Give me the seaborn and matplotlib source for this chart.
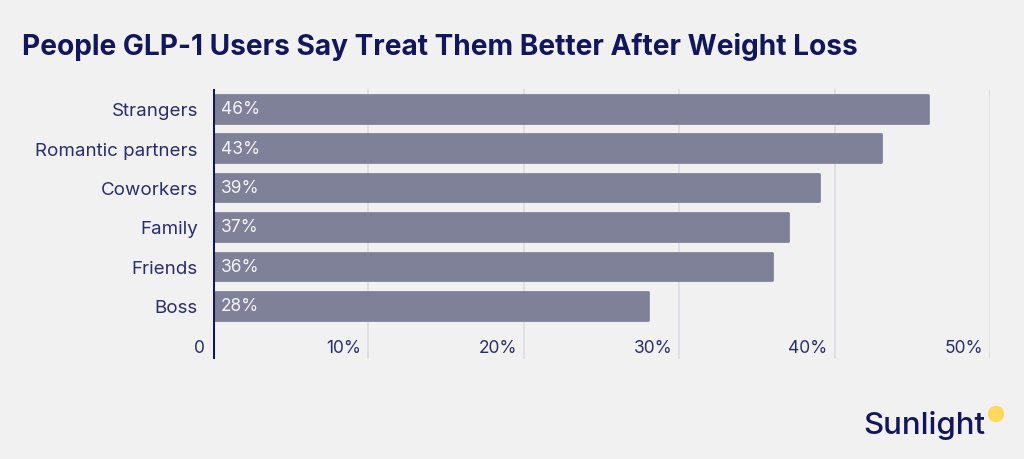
import matplotlib
matplotlib.use("Agg")
import matplotlib.pyplot as plt
import matplotlib.transforms as mtransforms
from matplotlib.patches import Ellipse
import seaborn as sns
import pandas as pd

groups = ["Strangers", "Romantic partners", "Coworkers", "Family", "Friends", "Boss"]
shares = [46, 43, 39, 37, 36, 28]
x_ticks = [0, 10, 20, 30, 40, 50]
x_tick_labels = ["0", "10%", "20%", "30%", "40%", "50%"]

navy = "#12165a"
bar_color = "#7f8199"
bg = "#f1f1f1"
font = ["Inter", "DejaVu Sans"]

sns.set_theme(style="white")
plt.rcParams["font.family"] = font

df = pd.DataFrame({"group": groups, "share": shares})

fig = plt.figure(figsize=(10.24, 4.6), dpi=100, facecolor=bg)
ax = fig.add_axes([213 / 1024, 1 - 360 / 460, (990 - 213) / 1024, 270 / 460])
ax.set_facecolor(bg)

sns.barplot(data=df, x="share", y="group", color=bar_color, saturation=1,
            width=0.7, ax=ax, zorder=3)
for p in ax.patches:
    p.set_edgecolor(bar_color)
    p.set_linewidth(2.0)
    p.set_joinstyle("round")

ax.set_xlim(0, 50)
ax.set_ylim(6.35, -0.5)

# grid lines
for t in x_ticks[1:]:
    ax.axvline(t, color="#dcdce2", lw=1.2, zorder=1)

# axis line
ax.axvline(0, color=navy, lw=2.2, zorder=4)

for s in ax.spines.values():
    s.set_visible(False)
ax.set_xticks([])
ax.set_xlabel("")
ax.set_ylabel("")
ax.tick_params(axis="y", length=0, pad=11, labelsize=13.5, labelcolor="#2b2e6b")

# values inside bars
for i, v in enumerate(shares):
    ax.text(0.5, i, f"{v}%", va="center", ha="left", fontsize=12.5,
            color="#f4f4f8", zorder=5)

# x tick labels inside plot area
for t, lab in zip(x_ticks, x_tick_labels):
    off = mtransforms.offset_copy(ax.transData, fig=fig,
                                  x=-7 if t > 0 else -8, y=0, units="dots")
    ax.text(t, 6.05, lab, ha="right", va="center", fontsize=12.5,
            color="#2b2e6b", transform=off)

fig.text(22 / 1024, 1 - 47 / 460, "People GLP-1 Users Say Treat Them Better After Weight Loss",
         ha="left", va="center", fontsize=20.2, fontweight="bold", color=navy)

fig.text(985 / 1024, 1 - 426 / 460, "Sunlight", ha="right", va="center",
         fontsize=22.5, color=navy, fontweight="medium")
fig.patches.append(Ellipse((996 / 1024, 1 - 415 / 460), 15 / 1024, 15 / 460,
                           transform=fig.transFigure, color="#ffd95c",
                           figure=fig))

fig.savefig("out.png", dpi=100, facecolor=bg)
